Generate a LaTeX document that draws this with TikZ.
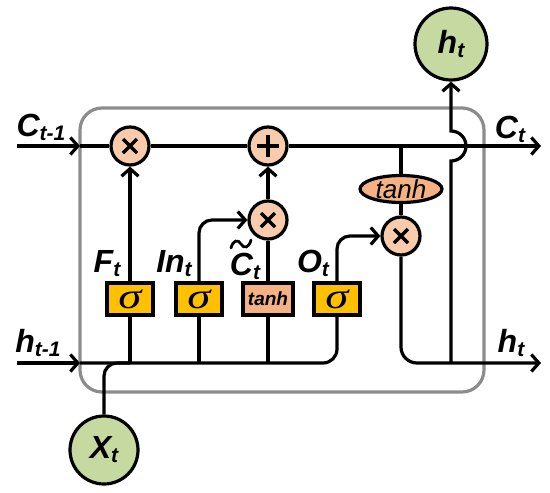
\documentclass[tikz,border=0pt]{standalone}
\usepackage{fontspec}
\setmainfont{Liberation Sans}
\newfontfamily\serifit{Liberation Serif}
\usetikzlibrary{arrows.meta,shapes.geometric}
\definecolor{opfill}{HTML}{F8CBAD}
\definecolor{gatefill}{HTML}{FFC000}
\definecolor{tanhfill}{HTML}{F4B183}
\definecolor{iofill}{HTML}{C5D9A0}
\definecolor{cellgray}{HTML}{8C8C8C}
\newcommand\lab[2]{{\fontsize{32}{32}\selectfont\bfseries\itshape #1\raisebox{-4pt}{\fontsize{21}{21}\selectfont #2}}}
\newcommand\sig{\scalebox{1.3}[1]{\fontsize{36}{36}\selectfont\serifit\itshape σ}}
\tikzset{
  wire/.style={line width=3.2pt, black},
  arr/.style={wire, -{Straight Barb[length=7.5pt,width=17pt,line width=3.2pt]}},
  opc/.style={circle, draw, line width=3.2pt, fill=opfill, minimum size=38pt, inner sep=0pt},
  multop/.style={opc, path picture={\draw[line width=3.4pt] (path picture bounding box.center) ++(-7pt,-7pt) -- ++(14pt,14pt) ++(-14pt,0pt) -- ++(14pt,-14pt);}},
  plusop/.style={opc, path picture={\draw[line width=3.4pt] (path picture bounding box.center) ++(-11pt,0pt) -- ++(22pt,0pt) ++(-11pt,-11pt) -- ++(0pt,22pt);}},
  gate/.style={rectangle, draw, line width=3.2pt, fill=gatefill, minimum width=46pt, minimum height=32pt, inner sep=0pt},
  tgate/.style={gate, fill=tanhfill, minimum width=50pt},
  io/.style={circle, draw, line width=3.2pt, fill=iofill, inner sep=0pt},
  cell/.style={rectangle, draw=cellgray, line width=3.2pt, rounded corners=22pt, inner sep=0pt},
  lbl/.style={inner sep=0pt},
  tildemark/.style={line width=2.8pt, line cap=round}
}
\begin{document}
\begin{tikzpicture}[x=1pt,y=-1pt]
\useasboundingbox (0,0) rectangle (550,493);
% cell frame
\node[cell, minimum width=404pt, minimum height=284pt] (cellbox) at (282,250) {};
% coordinates
\coordinate (cin) at (17,146);
\coordinate (cL) at (80,146);
\coordinate (cout) at (541,146);
\coordinate (ctap) at (401,146);
\coordinate (hin) at (17,363);
\coordinate (hL) at (80,363);
\coordinate (hout) at (541,363);
\coordinate (hjn) at (451,363);
\coordinate (hopb) at (451,161);
% nodes
\node[multop] (fx) at (130,146) {};
\node[plusop] (plus) at (268,146) {};
\node[multop] (ix) at (268,220) {};
\node[multop] (ox) at (401,236) {};
\node[ellipse, draw, line width=3.2pt, fill=tanhfill, minimum width=82pt, minimum height=27pt, inner sep=0pt] (tanhE) at (401,189) {\fontsize{26}{26}\selectfont\itshape tanh};
\node[gate] (Fg) at (130,299) {\sig};
\node[gate] (Ig) at (199,299) {\sig};
\node[tgate] (Tg) at (268,299) {\fontsize{19}{19}\selectfont\bfseries\itshape tanh};
\node[gate] (Og) at (337,299) {\sig};
\node[io, minimum size=72pt] (ht) at (451,44) {\lab{h}{t}};
\node[io, minimum size=68pt] (xt) at (104,450) {\lab{X}{t}};
% labels
\node[lbl] (lCin) at (41,127) {\lab{C}{t-1}};
\node[lbl] (lhin) at (38,343) {\lab{h}{t-1}};
\node[lbl] (lCout) at (510,129) {\lab{C}{t}};
\node[lbl] (lhout) at (511,343) {\lab{h}{t}};
\node[lbl] (lF) at (107,264) {\lab{F}{t}};
\node[lbl] (lI) at (174,264) {\lab{In}{t}};
\node[lbl] (lC) at (245,266) {\lab{C}{t}};
\node[lbl] (lO) at (313,263) {\lab{O}{t}};
% tilde over C
\draw[tildemark] (231,248) .. controls (233,240) and (238,239) .. (241,244) .. controls (244,249) and (249,248) .. (251,240);
% cell state line
\draw[arr] (cin) -- (cL);
\draw[wire] (cL) -- (fx);
\draw[wire] (fx) -- (plus);
\draw[arr] (plus) -- (cout);
\draw[wire] (ctap) -- (tanhE);
\draw[wire] (tanhE) -- (ox);
\draw[arr, rounded corners=16pt] (ox.south) |- (hout);
% hidden line
\draw[arr] (hin) -- (hL);
\draw[wire, rounded corners=14pt] (hL) -| (Og.south);
\draw[wire, rounded corners=13pt] (xt.north) |- (Fg.south |- hL);
\draw[wire] (Fg.south |- hL) -- (Fg.south);
\draw[wire] (Ig.south |- hL) -- (Ig.south);
\draw[wire] (Tg.south |- hL) -- (Tg.south);
% gates
\draw[arr] (Fg) -- (fx);
\draw[arr, rounded corners=13pt] (Ig.north) |- (ix.west);
\draw[wire] (Tg) -- (ix);
\draw[arr] (ix) -- (plus);
\draw[arr, rounded corners=13pt] (Og.north) |- (ox.west);
% output with hop
\draw[arr] (hjn) -- (hopb) arc[start angle=-90, end angle=90, radius=15pt] -- (ht.south);
\end{tikzpicture}
\end{document}
